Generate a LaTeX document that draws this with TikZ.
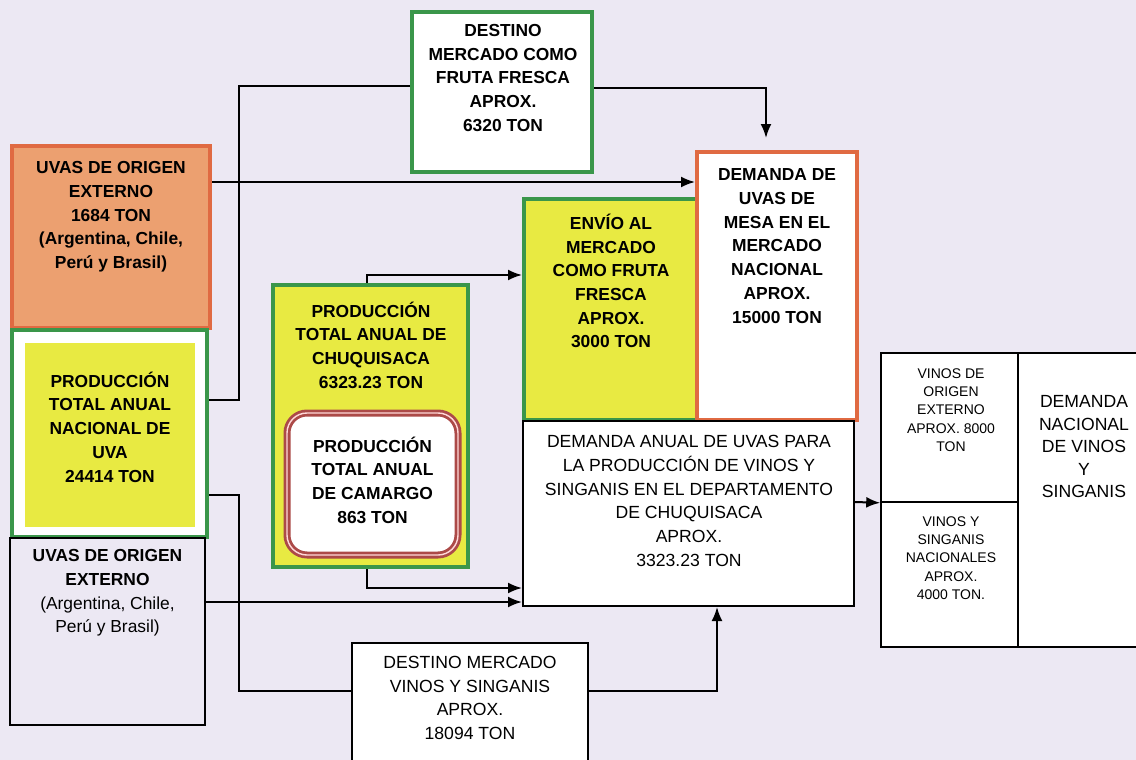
\documentclass[tikz,border=0pt]{standalone}
\usepackage{fontspec}
\setmainfont{Liberation Sans}
\usetikzlibrary{positioning,arrows.meta}

\definecolor{fondo}{RGB}{236,232,243}
\definecolor{verde}{RGB}{58,150,74}
\definecolor{amarillo}{RGB}{232,234,66}
\definecolor{naranja}{RGB}{236,160,112}
\definecolor{rojizo}{RGB}{224,106,66}
\definecolor{granate}{RGB}{172,74,72}

\tikzset{
  caja/.style={draw, line width=1pt, fill=white, inner sep=0pt},
  cajaverde/.style={caja, draw=verde, line width=2pt},
  negrita/.style={align=center, inner sep=0pt, font=\fontsize{8.7}{11.85}\selectfont\bfseries},
  normal/.style={align=center, inner sep=0pt, font=\fontsize{8.8}{11.85}\selectfont},
  chica/.style={align=center, inner sep=0pt, font=\fontsize{7}{9.15}\selectfont},
  linea/.style={line width=1pt},
  flecha/.style={line width=1pt, -{Latex[length=7pt,width=5.5pt]}},
}

\begin{document}
\begin{tikzpicture}[x=0.5pt, y=-0.5pt]
  \clip (0,0) rectangle (1136,760);
  \fill[fondo] (0,0) rectangle (1136,760);

  % lado izquierdo
  \node[caja, fill=naranja, draw=rojizo, line width=2pt, minimum width=99pt, minimum height=91pt] (A) at (111,237) {};
  \node[negrita] (tA) at (111,217) {UVAS DE ORIGEN\\EXTERNO\\1684 TON\\(Argentina, Chile,\\Perú y Brasil)};

  \node[cajaverde, minimum width=97.5pt, minimum height=103.5pt] (B) at (109.5,433.5) {};
  \node[fill=amarillo, inner sep=0pt, minimum width=85pt, minimum height=92pt] (Bfondo) at (110,435) {};
  \node[negrita] (tB) at (110,427) {PRODUCCIÓN\\TOTAL ANUAL\\NACIONAL DE\\UVA\\24414 TON};

  \node[draw, line width=0.6pt, inner sep=0pt, minimum width=97.5pt, minimum height=93.5pt] (C) at (107.5,631.5) {};
  \node[negrita] (tC) at (107.5,593) {UVAS DE ORIGEN\\EXTERNO\\\mdseries(Argentina, Chile,\\\mdseries Perú y Brasil)};

  % centro
  \node[cajaverde, minimum width=90pt, minimum height=80pt] (df) at (502,92) {};
  \node[negrita] (tdf) at (503,78) {DESTINO\\MERCADO COMO\\FRUTA FRESCA\\APROX.\\6320 TON};

  \node[cajaverde, fill=amarillo, minimum width=97.5pt, minimum height=141pt] (chuq) at (370.5,426) {};
  \node[negrita] (tchuq) at (371,345) {PRODUCCIÓN\\TOTAL ANUAL DE\\CHUQUISACA\\6323.23 TON};
  \node[caja, draw=granate, line width=1.4pt, double=pink!60!white, double distance=0.7pt,
        rounded corners=10pt, minimum width=85.5pt, minimum height=71pt] (camargo) at (372.5,484) {};
  \node[negrita] (tcamargo) at (372.5,480) {PRODUCCIÓN\\TOTAL ANUAL\\DE CAMARGO\\863 TON};

  \node[cajaverde, fill=amarillo, minimum width=86.5pt, minimum height=110.5pt] (envio) at (610.5,309.5) {};
  \node[negrita] (tenvio) at (611,281) {ENVÍO AL\\MERCADO\\COMO FRUTA\\FRESCA\\APROX.\\3000 TON};

  \node[caja, draw=rojizo, line width=2pt, minimum width=80pt, minimum height=134pt] (mesa) at (777,286) {};
  \node[negrita] (tmesa) at (777,246) {DEMANDA DE\\UVAS DE\\MESA EN EL\\MERCADO\\NACIONAL\\APROX.\\15000 TON};

  \node[caja, minimum width=165.5pt, minimum height=92.5pt] (demanual) at (688.5,513.5) {};
  \node[normal] (tdemanual) at (689,501) {DEMANDA ANUAL DE UVAS PARA\\LA PRODUCCIÓN DE VINOS Y\\SINGANIS EN EL DEPARTAMENTO\\DE CHUQUISACA\\APROX.\\3323.23 TON};

  \node[caja, minimum width=118pt, minimum height=66pt] (dv) at (470,709) {};
  \node[normal] (tdv) at (470,698) {DESTINO MERCADO\\VINOS Y SINGANIS\\APROX.\\18094 TON};

  % lado derecho
  \node[caja, line width=0.8pt, minimum width=68.5pt, minimum height=74.5pt] (ve) at (949.5,427.5) {};
  \node[chica] (tve) at (951,410) {VINOS DE\\ORIGEN\\EXTERNO\\APROX. 8000\\TON};
  \node[caja, line width=0.8pt, minimum width=68.5pt, minimum height=72.5pt] (vn) at (949.5,574.5) {};
  \node[chica] (tvn) at (951,558) {VINOS Y\\SINGANIS\\NACIONALES\\APROX.\\4000 TON.};
  \node[caja, line width=0.8pt, minimum width=64pt, minimum height=147pt] (dn) at (1082,500) {};
  \node[normal, font=\fontsize{8.8}{11.25}\selectfont] (tdn) at (1084,447) {DEMANDA\\NACIONAL\\DE VINOS\\Y\\SINGANIS};

  % conexiones
  \draw[flecha] ([yshift=27.5pt]A.east) -- ([yshift=27.5pt]A.east -| mesa.west);
  \draw[linea] ([yshift=16.75pt]B.east) -- ++(15pt,0) |- ([yshift=3pt]df.west);
  \draw[flecha] ([yshift=2pt]df.east) -| ([xshift=-5.5pt,yshift=6pt]mesa.north);
  \draw[flecha] ([xshift=-1.75pt]chuq.north) |- ([yshift=17.25pt]envio.west);
  \draw[flecha] ([xshift=-1.75pt]chuq.south) |- ([yshift=-37.25pt]demanual.west);
  \draw[flecha] ([yshift=14.75pt]C.east) -- ([yshift=14.75pt]C.east -| demanual.west);
  \draw[linea] ([yshift=-30.75pt]B.east) -- ++(15pt,0) |- ([yshift=9.25pt]dv.west);
  \draw[flecha] ([yshift=9.25pt]dv.east) -| ([xshift=14.25pt]demanual.south);
  \draw[flecha] ([yshift=5.75pt]demanual.east) -- (ve.south west);
\end{tikzpicture}
\end{document}
